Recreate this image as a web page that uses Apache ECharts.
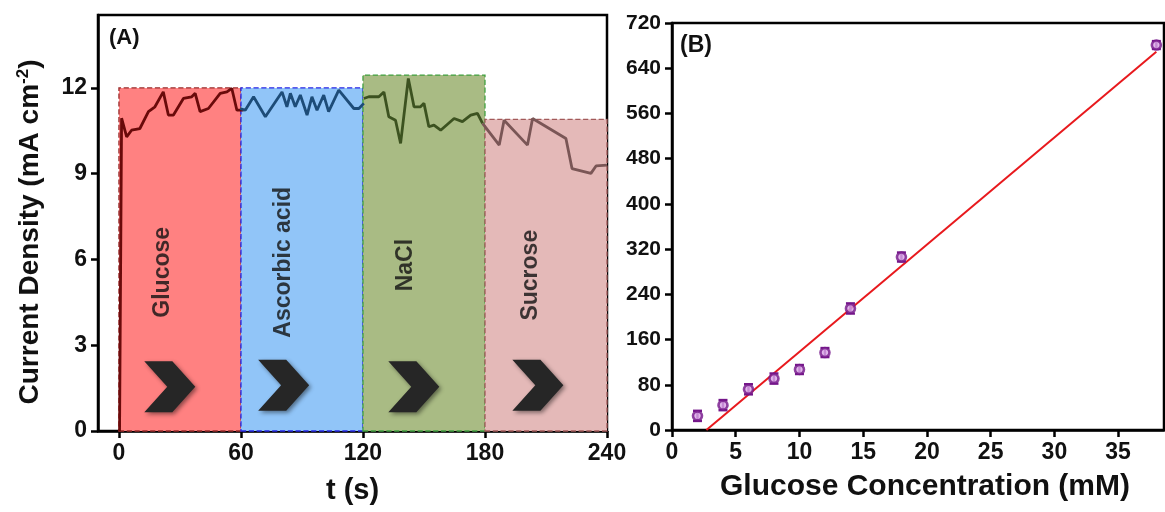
<!DOCTYPE html>
<html><head><meta charset="utf-8">
<script src="https://cdn.jsdelivr.net/npm/echarts@6/dist/echarts.min.js"></script>
<style>html,body{margin:0;padding:0;background:#fff}#c{width:1165px;height:512px}</style>
</head><body><div id="c"></div>
<script>
// ---------- Panel A data ----------
var regionNames = ['Glucose', 'Ascorbic acid', 'NaCl', 'Sucrose'];
var regionStart = [0, 60, 120, 180];
var regionEnd = [60, 120, 180, 240];
var regionTop = [12, 12, 12.45, 10.9];
var labelT = [21.7, 81, 141, 202.6];
var labelV = [5.55, 5.9, 5.8, 5.45];
var chevronT = [25, 81, 145, 206];
var chevronV = [1.55, 1.6, 1.55, 1.6];

var glucoseT = [0.3, 1.3, 3.8, 6.2, 10.3, 14.5, 17.7, 21.8, 24.3, 26.8, 31.7, 35.8, 37.5, 39.9, 44, 49.8, 53.1, 55.5, 58, 61.3];
var glucoseV = [0, 10.94, 10.29, 10.52, 10.58, 11.17, 11.34, 11.86, 11.05, 11.05, 11.63, 11.69, 11.81, 11.17, 11.28, 11.81, 11.86, 11.98, 11.22, 11.22];
var ascorbicT = [59.6, 62.1, 66.2, 72, 80.2, 82.6, 84.3, 86.7, 89.2, 92.5, 94.9, 97.4, 100.7, 103.1, 108.1, 115.5, 118, 120.4];
var ascorbicV = [11.28, 11.22, 11.69, 10.99, 11.86, 11.34, 11.81, 11.34, 11.75, 11.05, 11.69, 11.22, 11.75, 11.17, 11.92, 11.28, 11.28, 11.46];
var naclT = [120.4, 122.9, 127.8, 130.3, 132.7, 136, 138.5, 142.3, 145.1, 148.3, 150, 152.4, 154.9, 158.2, 164.8, 168.9, 173, 176.3, 178.8];
var naclV = [11.63, 11.69, 11.69, 11.86, 10.99, 10.87, 10.06, 12.33, 11.34, 11.34, 11.46, 10.64, 10.7, 10.52, 10.93, 10.82, 11.05, 11.11, 10.76];
var sucroseT = [178.8, 187, 189.4, 200.9, 203.4, 219.8, 222.8, 232.1, 234.6, 240];
var sucroseV = [10.76, 10.0, 10.87, 10.0, 10.93, 10.23, 9.18, 9.01, 9.27, 9.3];
var yTicksA = [0, 3, 6, 9, 12];
var xTicksA = [0, 60, 120, 180, 240];

// ---------- Panel B data ----------
var concX = [2, 4, 6, 8, 10, 12, 14, 18, 38];
var concY = [25, 44, 72, 91, 107, 137, 215, 306, 681];
var concErr = [9, 9, 9, 9, 8, 8, 9, 8, 7];
var fitX = [2.7, 38];
var fitY = [0, 669];
var xTicksB = [0, 5, 10, 15, 20, 25, 30, 35];

var lineColors = ['#6a0a0a', '#1d4c78', '#3c5220', '#7a5656'];
var fillColors = ['#ff8181', '#91c5f8', '#a9bb84', '#e4b9b8'];
var borderColors = ['#9a2a2a', '#2626e6', '#3fa03f', '#a25a5a'];
var segT = [glucoseT, ascorbicT, naclT, sucroseT];
var segV = [glucoseV, ascorbicV, naclV, sucroseV];

function zip(a, b) { return a.map(function (v, i) { return [v, b[i]]; }); }

var FONT = 'Liberation Sans';
var axisLineStyle = { color: '#000', width: 2.5 };

var series = [];
for (var i = 0; i < 4; i++) {
  series.push({
    type: 'line', xAxisIndex: 0, yAxisIndex: 0, z: 3,
    data: zip(segT[i], segV[i]), symbol: 'none',
    lineStyle: { color: lineColors[i], width: 2.8 },
    markArea: {
      silent: true,
      itemStyle: { color: fillColors[i], borderColor: borderColors[i], borderWidth: 1.3, borderType: 'dashed' },
      data: [[{ xAxis: regionStart[i], yAxis: 0 }, { xAxis: regionEnd[i], yAxis: regionTop[i] }]]
    }
  });
}
series.push({
  type: 'scatter', xAxisIndex: 0, yAxisIndex: 0, z: 4,
  data: regionNames.map(function (n, i) { return { name: n, value: [labelT[i], labelV[i]] }; }),
  symbolSize: 0, itemStyle: { color: 'transparent' }, silent: true,
  label: { show: true, position: 'inside', rotate: 90, formatter: '{b}', color: '#111', fontFamily: FONT, fontWeight: 'bold', fontSize: 23 }
});
series.push({
  type: 'scatter', xAxisIndex: 0, yAxisIndex: 0, z: 4, silent: true,
  data: zip(chevronT, chevronV),
  symbol: 'path://M0,0 L55,0 L100,50 L55,100 L0,100 L45,50 Z',
  symbolSize: [51, 51],
  itemStyle: { color: '#262626', opacity: 1, shadowBlur: 4, shadowColor: 'rgba(0,0,0,0.45)', shadowOffsetX: 2, shadowOffsetY: 2 }
});
// Panel B
series.push({
  type: 'line', xAxisIndex: 1, yAxisIndex: 1, z: 2,
  data: zip(fitX, fitY), symbol: 'none',
  lineStyle: { color: '#e8191d', width: 2 }
});
series.push({
  type: 'custom', xAxisIndex: 1, yAxisIndex: 1, z: 3,
  data: concX.map(function (x, i) { return [x, concY[i] - concErr[i], concY[i] + concErr[i]]; }),
  renderItem: function (params, api) {
    var x = api.value(0);
    var p1 = api.coord([x, api.value(2)]);
    var p2 = api.coord([x, api.value(1)]);
    var w = 4.5, st = { stroke: '#74168a', lineWidth: 2.4 };
    return { type: 'group', children: [
      { type: 'line', shape: { x1: p1[0], y1: p1[1], x2: p2[0], y2: p2[1] }, style: st },
      { type: 'line', shape: { x1: p1[0] - w, y1: p1[1], x2: p1[0] + w, y2: p1[1] }, style: st },
      { type: 'line', shape: { x1: p2[0] - w, y1: p2[1], x2: p2[0] + w, y2: p2[1] }, style: st }
    ] };
  }
});
series.push({
  type: 'scatter', xAxisIndex: 1, yAxisIndex: 1, z: 4,
  data: zip(concX, concY), symbol: 'circle', symbolSize: 9,
  itemStyle: { color: '#d9a6e6', borderColor: '#74168a', borderWidth: 2.6 }
});

var tickLabel = function (size) { return { color: '#111', fontFamily: FONT, fontWeight: 'bold', fontSize: size, margin: 11 }; };

var option = {
  animation: false,
  backgroundColor: '#fff',
  grid: [
    { left: 98, top: 15, width: 509, height: 416, show: true, borderColor: '#000', borderWidth: 2.5, backgroundColor: 'transparent' },
    { left: 672, top: 23, width: 492, height: 407, show: true, borderColor: '#000', borderWidth: 2.5, backgroundColor: 'transparent' }
  ],
  xAxis: [
    { type: 'value', gridIndex: 0, min: -10.3, max: 240,
      name: 't (s)', nameLocation: 'middle', nameGap: 45,
      nameTextStyle: { color: '#111', fontFamily: FONT, fontWeight: 'bold', fontSize: 29 },
      axisLine: { onZero: false, lineStyle: axisLineStyle },
      axisTick: { customValues: xTicksA, length: 7, lineStyle: { width: 2.5, color: '#000' } },
      axisLabel: Object.assign({ customValues: xTicksA }, tickLabel(23)),
      splitLine: { show: false } },
    { type: 'value', gridIndex: 1, min: 0, max: 38.6,
      name: 'Glucose Concentration (mM)', nameLocation: 'middle', nameGap: 42,
      nameTextStyle: { color: '#111', fontFamily: FONT, fontWeight: 'bold', fontSize: 30, padding: [0, 0, 0, 14] },
      axisLine: { onZero: false, lineStyle: axisLineStyle },
      axisTick: { customValues: xTicksB, length: 7, lineStyle: { width: 2.5, color: '#000' } },
      axisLabel: Object.assign({ customValues: xTicksB }, tickLabel(23)),
      splitLine: { show: false } }
  ],
  yAxis: [
    { type: 'value', gridIndex: 0, min: 0, max: 14.55,
      name: '{a|Current Density (mA cm}{s|-2}{a|)}', nameLocation: 'middle', nameGap: 52,
      nameTextStyle: { color: '#111', fontFamily: FONT, fontWeight: 'bold', fontSize: 28, padding: [0, 18, 0, 0],
        rich: { a: { color: '#111', fontFamily: FONT, fontWeight: 'bold', fontSize: 28 },
                s: { color: '#111', fontFamily: FONT, fontWeight: 'bold', fontSize: 17, verticalAlign: 'top', padding: [0, 0, 14, 0] } } },
      axisLine: { onZero: false, lineStyle: axisLineStyle },
      axisTick: { customValues: yTicksA, length: 7, lineStyle: { width: 2.5, color: '#000' } },
      axisLabel: Object.assign({ customValues: yTicksA }, tickLabel(23)),
      splitLine: { show: false } },
    { type: 'value', gridIndex: 1, min: 0, max: 720, interval: 80,
      axisLine: { onZero: false, lineStyle: axisLineStyle },
      axisTick: { length: 7, lineStyle: { width: 2.5, color: '#000' } },
      axisLabel: tickLabel(21),
      splitLine: { show: false } }
  ],
  graphic: [
    { type: 'text', left: 109, top: 27, style: { text: '(A)', fill: '#111', font: 'bold 22px "Liberation Sans"' } },
    { type: 'text', left: 680, top: 34, style: { text: '(B)', fill: '#111', font: 'bold 23px "Liberation Sans"' } }
  ],
  series: series
};
var chart = echarts.init(document.getElementById('c'), null, { renderer: 'canvas' });
chart.setOption(option);
</script></body></html>
